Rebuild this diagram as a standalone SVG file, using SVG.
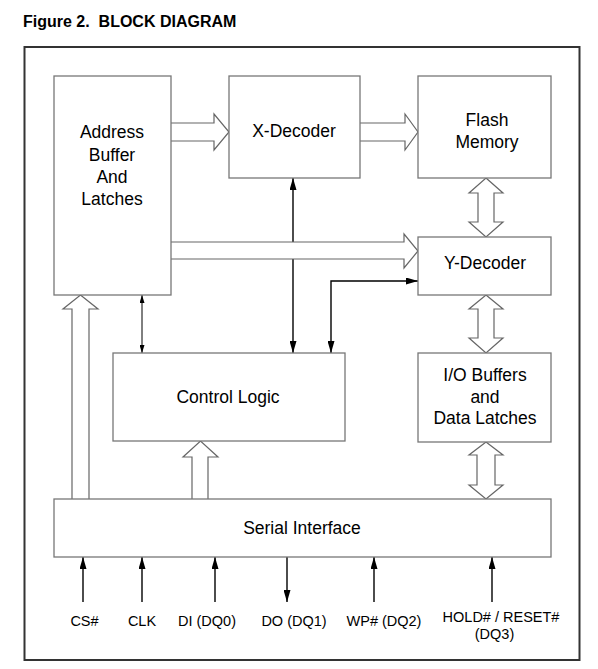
<svg xmlns="http://www.w3.org/2000/svg" width="598" height="669" viewBox="0 0 598 669">
<style>
  .box { fill: #fff; stroke: #777; stroke-width: 1.3; }
  .frame { fill: none; stroke: #333; stroke-width: 2; }
  .lbl { font-family: "Liberation Sans", Arial, sans-serif; font-size: 17.5px; fill: #000; text-anchor: middle; }
  .pin { font-family: "Liberation Sans", Arial, sans-serif; font-size: 14.5px; fill: #000; text-anchor: middle; }
  .title { font-family: "Liberation Sans", Arial, sans-serif; font-size: 16px; font-weight: bold; fill: #000; white-space: pre; }
  .hollow { fill: #fff; stroke: #666; stroke-width: 1.2; stroke-linejoin: miter; }
  .wire { fill: none; stroke: #000; stroke-width: 1.4; }
  .wire-thin { fill: none; stroke: #000; stroke-width: 1; }
</style>
<defs>
  <marker id="arr" viewBox="0 0 12 7" refX="12" refY="3.5" markerWidth="12" markerHeight="7" markerUnits="userSpaceOnUse" orient="auto-start-reverse">
    <path d="M0,0 L12,3.5 L0,7 Z" fill="#000"/>
  </marker>
  <marker id="arrs" viewBox="0 0 8 5" refX="8" refY="2.5" markerWidth="8" markerHeight="5" markerUnits="userSpaceOnUse" orient="auto-start-reverse">
    <path d="M0,0 L8,2.5 L0,5 Z" fill="#000"/>
  </marker>
</defs>

<text class="title" x="23" y="27" xml:space="preserve">Figure 2.  BLOCK DIAGRAM</text>
<rect class="frame" x="24.5" y="47" width="555" height="613"/>

<g id="connectors">
  <path class="wire" d="M293,178 V353" marker-start="url(#arr)" marker-end="url(#arr)"/>
  <path class="wire-thin" d="M142,295 V353" marker-start="url(#arrs)" marker-end="url(#arrs)"/>
  <path class="wire" d="M331,353 V281 H418" marker-start="url(#arr)" marker-end="url(#arr)"/>
  <path class="hollow" d="M171,123 H214 V114 L229,132 L214,150 V141 H171"/>
  <path class="hollow" d="M360,123 H405 V114 L418,132 L405,150 V141 H360"/>
  <path class="hollow" d="M171,242 H404 V234 L418,251 L404,268 V259 H171"/>
  <path class="hollow" d="M486,178 L503,193 H494 V222 H503 L486,237 L469,222 H478 V193 H469 Z"/>
  <path class="hollow" d="M486,295 L503,309 H494 V338 H503 L486,353 L469,338 H478 V309 H469 Z"/>
  <path class="hollow" d="M486,442 L503,455 H495 V485 H503 L486,499 L469,485 H477 V455 H469 Z"/>
  <path class="hollow" d="M72,499 V309 H63 L80.5,295 L98,309 H89 V499"/>
  <path class="hollow" d="M192,499 V457 H183 L200.5,441 L218,457 H208 V499"/>
  <path class="wire" d="M83,602 V557" marker-end="url(#arr)"/>
  <path class="wire" d="M142,602 V557" marker-end="url(#arr)"/>
  <path class="wire" d="M215,602 V557" marker-end="url(#arr)"/>
  <path class="wire" d="M287,557 V602" marker-end="url(#arr)"/>
  <path class="wire" d="M374,602 V557" marker-end="url(#arr)"/>
  <path class="wire" d="M492,602 V557" marker-end="url(#arr)"/>
</g>

<g id="address-buffer">
  <rect class="box" x="54" y="76" width="117" height="219"/>
  <text class="lbl" x="112" y="138">Address</text>
  <text class="lbl" x="112" y="161">Buffer</text>
  <text class="lbl" x="112" y="183">And</text>
  <text class="lbl" x="112" y="205">Latches</text>
</g>
<g id="x-decoder">
  <rect class="box" x="229" y="76" width="131" height="102"/>
  <text class="lbl" x="294" y="137">X-Decoder</text>
</g>
<g id="flash-memory">
  <rect class="box" x="418" y="76" width="133" height="102"/>
  <text class="lbl" x="487" y="126">Flash</text>
  <text class="lbl" x="487" y="148">Memory</text>
</g>
<g id="y-decoder">
  <rect class="box" x="418" y="237" width="133" height="58"/>
  <text class="lbl" x="485" y="269">Y-Decoder</text>
</g>
<g id="control-logic">
  <rect class="box" x="113" y="353" width="232" height="88"/>
  <text class="lbl" x="228" y="403">Control Logic</text>
</g>
<g id="io-buffers">
  <rect class="box" x="418" y="353" width="133" height="89"/>
  <text class="lbl" x="485" y="381">I/O Buffers</text>
  <text class="lbl" x="485" y="403">and</text>
  <text class="lbl" x="485" y="424">Data Latches</text>
</g>
<g id="serial-interface">
  <rect class="box" x="54" y="499" width="497" height="58"/>
  <text class="lbl" x="302" y="534">Serial Interface</text>
</g>

<g id="pins">
  <text class="pin" x="84.5" y="626">CS#</text>
  <text class="pin" x="142" y="626">CLK</text>
  <text class="pin" x="207" y="626">DI (DQ0)</text>
  <text class="pin" x="294" y="626">DO (DQ1)</text>
  <text class="pin" x="384" y="626">WP# (DQ2)</text>
  <text class="pin" x="501" y="622">HOLD# / RESET#</text>
  <text class="pin" x="494.5" y="639">(DQ3)</text>
</g>
</svg>
